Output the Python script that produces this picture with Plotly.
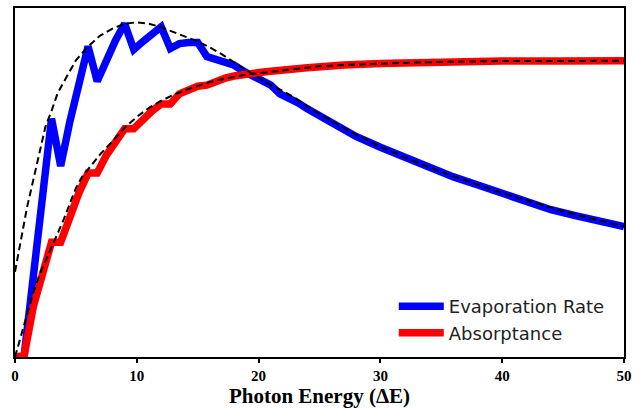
import plotly.graph_objects as go

# ---- data (normalised units) ----
evap_x = [0, 0.75, 3.0, 3.75, 4.5, 5.25, 6.0, 6.75, 7.5, 8.25, 9.0, 9.75, 10.5, 11.25,
          12.0, 12.75, 13.5, 14.25, 15.0, 15.75, 16.5, 17.25, 18.0, 18.75, 19.5, 20.25,
          21.0, 21.75, 22.5, 23.25, 24.0, 25, 26.5, 28, 30, 32, 34, 36, 38, 40, 42, 44,
          46, 48, 50]
evap_y = [0, 0.003, 0.683, 0.547, 0.674, 0.788, 0.890, 0.790, 0.853, 0.907, 0.955, 0.881,
          0.904, 0.926, 0.946, 0.884, 0.898, 0.901, 0.901, 0.861, 0.853, 0.844, 0.836,
          0.819, 0.805, 0.793, 0.779, 0.754, 0.742, 0.728, 0.711, 0.691, 0.666, 0.632,
          0.601, 0.572, 0.547, 0.516, 0.493, 0.470, 0.448, 0.422, 0.405, 0.388, 0.374]

abs_x = [0, 0.75, 1.5, 2.25, 3.0, 3.75, 4.5, 5.25, 6.0, 6.75, 7.5, 8.25, 9.0, 9.75, 10.5,
         11.25, 12.0, 12.75, 13.5, 14.25, 15.0, 15.75, 16.5, 17.25, 18.0, 18.75, 19.5,
         20.25, 21.0, 21.75, 22.5, 24, 25, 27, 30, 33, 36, 40, 45, 50]
abs_y = [0, 0.003, 0.144, 0.235, 0.329, 0.329, 0.402, 0.470, 0.527, 0.527, 0.578, 0.620,
         0.654, 0.654, 0.683, 0.705, 0.725, 0.725, 0.754, 0.765, 0.776, 0.779, 0.790,
         0.799, 0.805, 0.807, 0.810, 0.816, 0.819, 0.820, 0.824, 0.829, 0.833, 0.837,
         0.841, 0.844, 0.846, 0.848, 0.848, 0.849]

evap_fit_x = [0, 0.5, 1.0, 1.5, 2.0, 2.5, 3.0, 3.5, 4.0, 4.5, 5.0, 6.0, 7.0, 8.0, 9.0, 10.0,
              11.0, 12.0, 13.0, 14.0, 15.0, 16.0, 17.0, 18.0, 19.0, 20.0, 21.0, 22.0, 23.0,
              24.0, 25.0, 26.5, 28, 30, 32, 34, 36, 38, 40, 42, 44, 46, 48, 50]
evap_fit_y = [0.244, 0.343, 0.431, 0.507, 0.586, 0.660, 0.705, 0.756, 0.788, 0.819, 0.850,
              0.890, 0.921, 0.941, 0.955, 0.959, 0.955, 0.945, 0.932, 0.918, 0.904, 0.887,
              0.867, 0.844, 0.822, 0.799, 0.779, 0.762, 0.742, 0.717, 0.697, 0.669, 0.637,
              0.603, 0.572, 0.544, 0.518, 0.493, 0.470, 0.448, 0.428, 0.408, 0.391, 0.374]

abs_fit_x = [0, 0.5, 1.0, 1.5, 2.0, 2.5, 3.0, 3.5, 4.0, 4.5, 5.0, 5.5, 6.0, 7.0, 8.0, 9.0,
             10.0, 11.0, 12.0, 13.0, 14.0, 15.0, 16.0, 17.0, 18.0, 19.0, 20.0, 21.0, 22.0,
             23.0, 24, 25, 27, 30, 33, 36, 40, 45, 50]
abs_fit_y = [0, 0.062, 0.127, 0.184, 0.235, 0.275, 0.312, 0.351, 0.394, 0.439, 0.484, 0.516,
             0.538, 0.581, 0.618, 0.657, 0.688, 0.714, 0.734, 0.751, 0.765, 0.776, 0.788,
             0.796, 0.803, 0.809, 0.813, 0.817, 0.822, 0.826, 0.829, 0.833, 0.837, 0.841,
             0.844, 0.846, 0.848, 0.848, 0.849]

x_ticks = [0, 10, 20, 30, 40, 50]
x_title = "Photon Energy (\u0394E)"
names = ["Evaporation Rate", "Absorptance"]

fig = go.Figure()
fig.add_trace(go.Scatter(x=evap_x, y=evap_y, mode="lines", name=names[0],
                         line=dict(color="#0000ff", width=7.5), legendgroup="a"))
fig.add_trace(go.Scatter(x=abs_x, y=abs_y, mode="lines", name=names[1],
                         line=dict(color="#ff0000", width=7.5), legendgroup="b"))
fig.add_trace(go.Scatter(x=evap_fit_x, y=evap_fit_y, mode="lines", showlegend=False,
                         line=dict(color="black", width=2, dash="7px,4px")))
fig.add_trace(go.Scatter(x=abs_fit_x, y=abs_fit_y, mode="lines", showlegend=False,
                         line=dict(color="black", width=2, dash="7px,4px")))

fig.update_layout(
    width=644, height=409,
    margin=dict(l=15, r=20, t=6, b=50),
    paper_bgcolor="white", plot_bgcolor="white",
    showlegend=True,
    legend=dict(x=0.622, y=0.017, xanchor="left", yanchor="bottom",
                font=dict(family="DejaVu Sans", size=18, color="#222"),
                bgcolor="rgba(255,255,255,0)", borderwidth=0,
                traceorder="grouped", tracegroupgap=0, itemwidth=45),
    xaxis=dict(range=[0, 50], tickvals=x_ticks, ticktext=[str(t) for t in x_ticks],
               ticks="outside", ticklen=4, tickwidth=1.5, tickcolor="black",
               showline=True, linecolor="black", linewidth=1.5, mirror=True,
               showgrid=False, zeroline=False,
               tickfont=dict(family="Liberation Serif", size=15, color="black", weight="bold"),
               title=dict(text=x_title, standoff=5,
                          font=dict(family="Liberation Serif", size=21, color="black",
                                    weight="bold"))),
    yaxis=dict(range=[0, 1.0], showticklabels=False, ticks="",
               showline=True, linecolor="black", linewidth=1.5, mirror=True,
               showgrid=False, zeroline=False),
)

fig.write_html("out.html")
